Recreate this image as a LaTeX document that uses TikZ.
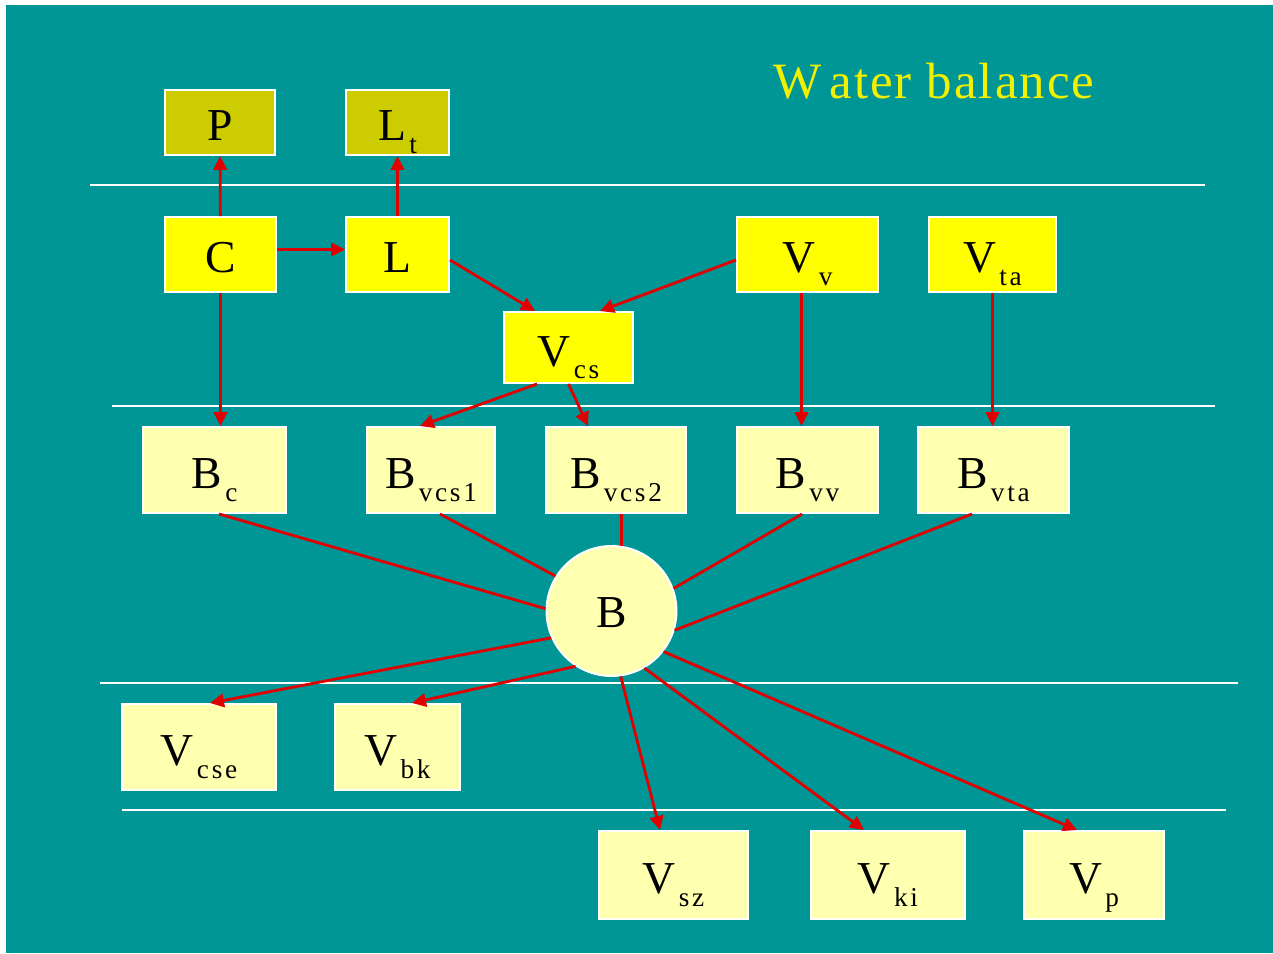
\documentclass[tikz,border=0pt]{standalone}
\usepackage{fontspec}
\setmainfont{Liberation Serif}
\usetikzlibrary{arrows.meta,calc}

\definecolor{slide}{RGB}{0,150,150}
\definecolor{olivebox}{RGB}{204,204,0}
\definecolor{sunbox}{RGB}{255,255,0}
\definecolor{palebox}{RGB}{255,255,176}
\definecolor{flow}{RGB}{225,0,0}
\definecolor{headline}{RGB}{240,240,0}

% symbol with a lowered, letter-spaced index
\newcommand\sym[2]{{\fontsize{26}{26}\selectfont #1}\kern1.8pt\raisebox{-7.2pt}{\fontsize{15.5}{15.5}\selectfont\addfontfeatures{LetterSpace=10}#2}}

\begin{document}
\begin{tikzpicture}[x=0.02cm,y=-0.02cm,
  box/.style={draw=white, line width=1.1pt, inner sep=0pt, text=black,
    font=\fontsize{26}{26}\selectfont, text height=0.74cm, text depth=0pt},
  obox/.style={box, fill=olivebox, minimum height=1.3cm},
  ybox/.style={box, fill=sunbox, minimum height=1.5cm},
  pbox/.style={box, fill=palebox, minimum height=1.72cm},
  arr/.style={draw=flow, line width=1.6pt, -{Triangle[length=0.28cm,width=0.27cm]}},
  link/.style={draw=flow, line width=1.6pt},
  rule/.style={draw=white, line width=1.1pt}]

% page and slide background
\fill[white] (0,0) rectangle (1273,953);
\fill[slide] (6,5) rectangle (1273,953);

% title
\node[anchor=base west, inner sep=0pt, text=headline,
  font=\fontsize{29}{29}\selectfont\addfontfeatures{LetterSpace=4}]
  (title) at (773,98) {W\kern4.5pt ater balance};

% separator rules
\draw[rule] (90,185) -- (1205,185);
\draw[rule] (112,406) -- (1215,406);
\draw[rule] (100,683) -- (1238,683);
\draw[rule] (122,810) -- (1226,810);

% outputs at the top
\node[obox, minimum width=2.2cm]  (P)  at (220,122.5)   {P};
\node[obox, minimum width=2.06cm] (Lt) at (397.5,122.5) {\sym{L}{t}};

% inputs
\node[ybox, minimum width=2.22cm] (C)   at (220.5,254.5) {C};
\node[ybox, minimum width=2.06cm] (L)   at (397.5,254.5) {L};
\node[ybox, minimum width=2.82cm] (Vv)  at (807.5,254.5) {\sym{V}{v}};
\node[ybox, minimum width=2.54cm] (Vta) at (992.5,254.5) {\sym{V}{ta}};
\node[ybox, minimum width=2.58cm, minimum height=1.42cm] (Vcs) at (568.5,347.5) {\sym{V}{cs}};

% partial balances
\node[pbox, minimum width=2.86cm] (Bc)    at (214.5,470) {\sym{B}{c}};
\node[pbox, minimum width=2.56cm] (Bvcs1) at (431,470)   {\sym{B}{vcs1}};
\node[pbox, minimum width=2.8cm]  (Bvcs2) at (616,470)   {\sym{B}{vcs2}};
\node[pbox, minimum width=2.82cm] (Bvv)   at (807.5,470) {\sym{B}{vv}};
\node[pbox, minimum width=3.02cm] (Bvta)  at (993.5,470) {\sym{B}{vta}};

% total balance
\node[box, circle, fill=palebox, minimum size=2.6cm, text height=0.64cm] (B) at (611.5,611) {B};

% losses
\node[pbox, minimum width=3.08cm] (Vcse) at (199,747)    {\sym{V}{cse}};
\node[pbox, minimum width=2.5cm]  (Vbk)  at (397.5,747)  {\sym{V}{bk}};
\node[pbox, minimum width=2.98cm, minimum height=1.76cm] (Vsz) at (673.5,875) {\sym{V}{sz}};
\node[pbox, minimum width=3.08cm, minimum height=1.76cm] (Vki) at (888,875)   {\sym{V}{ki}};
\node[pbox, minimum width=2.8cm,  minimum height=1.76cm] (Vp)  at (1094,875)  {\sym{V}{p}};

% flows between the upper boxes
\draw[arr] (C) -- (P);
\draw[arr] (L) -- (Lt);
\draw[arr] ([yshift=0.1cm]C.east) -- ([yshift=0.1cm]L.west);
\draw[arr] ([yshift=-0.11cm]L.east) -- ([xshift=-0.67cm]Vcs.north);
\draw[arr] ([yshift=-0.11cm]Vv.west) -- ([xshift=0.63cm]Vcs.north);
\draw[arr] (C.south) -- (C.south |- Bc.north);
\coordinate (vvdrop) at ([xshift=-0.12cm]Vv.south);
\draw[arr] (vvdrop) -- (vvdrop |- Bvv.north);
\draw[arr] (Vta.south) -- (Vta.south |- Bvta.north);
\draw[arr] ([xshift=-0.63cm]Vcs.south) -- ([xshift=-0.22cm]Bvcs1.north);
\draw[arr] (Vcs.south) -- ([xshift=-0.56cm]Bvcs2.north);

% partial balances feeding the total
\draw[link] ([xshift=0.09cm]Bc.south) -- (B.178);
\draw[link] ([xshift=0.18cm]Bvcs1.south) -- (B.148);
\draw[link] (B.81 |- Bvcs2.south) -- (B.81);
\draw[link] ([xshift=-0.11cm]Bvv.south) -- (B.20);
\draw[link] ([xshift=-0.43cm]Bvta.south) -- (B.-17);

% outflows from the total
\draw[arr] (B.204) -- ([xshift=0.22cm]Vcse.north);
\draw[arr] (B.237) -- ([xshift=0.29cm]Vbk.north);
\draw[arr] (B.278) -- ([xshift=-0.27cm]Vsz.north);
\draw[arr] (B.300) -- ([xshift=-0.48cm]Vki.north);
\draw[arr] (B.322) -- ([xshift=-0.34cm]Vp.north);
\end{tikzpicture}
\end{document}
